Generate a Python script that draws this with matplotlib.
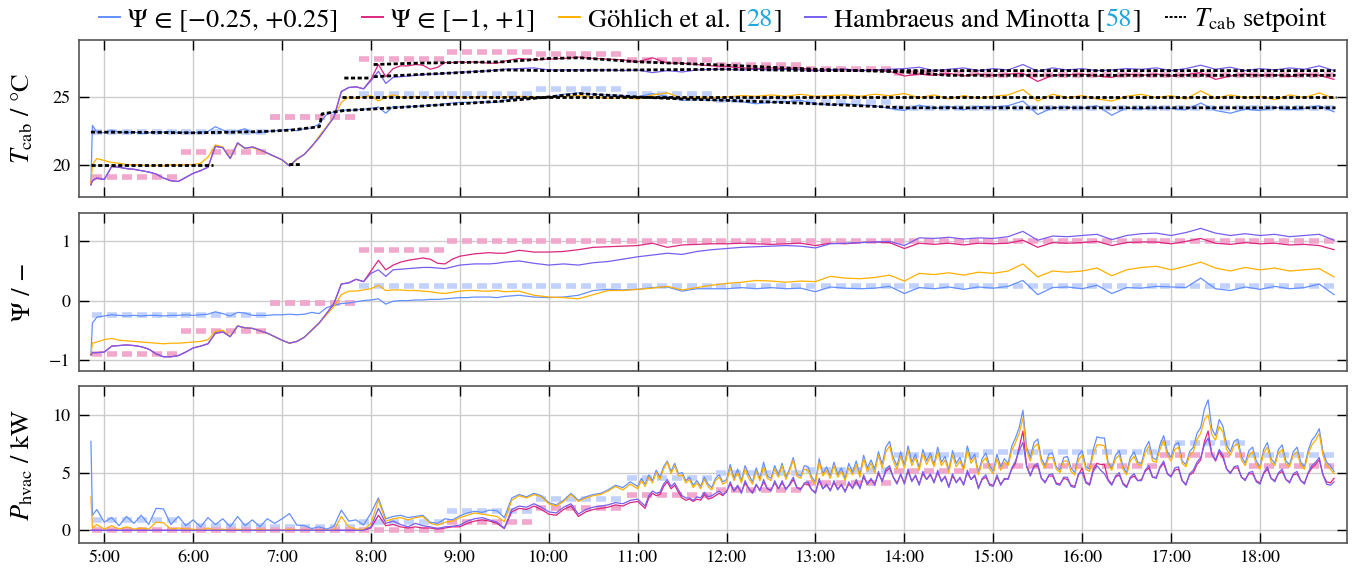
import numpy as np
import matplotlib
matplotlib.use('Agg')
import matplotlib.pyplot as plt

plt.rcParams['font.family'] = 'STIXGeneral'
plt.rcParams['mathtext.fontset'] = 'stix'

# sample times in hours: 4:51, 4:52, then 5-min steps to 9:30, 10-min steps to 18:50
t_tm = np.concatenate([[291, 292], np.arange(295, 571, 5), np.arange(580, 1131, 10)]) / 60
# power samples: 4:51, 4:52, 5-min steps to 10:55, then 2.5-min steps to 18:50
t_p = np.concatenate([[291, 292], np.arange(295, 660, 5), np.arange(660, 1130.1, 2.5)]) / 60

# cabin temperature in degC
T_narrow = [18.6, 22.9, 22.4,
            22.35, 22.55, 22.4, 22.35, 22.4, 22.3, 22.35, 22.4, 22.4, 22.45, 22.35, 22.4,
            22.35, 22.4, 22.45, 22.8, 22.55, 22.4, 22.5, 22.65, 22.35, 22.35, 22.45, 22.5,
            22.55, 22.6, 22.5, 22.65, 22.7, 23.0, 23.7, 23.9, 24.05, 24.0, 24.05, 24.1,
            24.15, 24.25, 23.8, 24.3, 24.25, 24.3, 24.3, 24.35, 24.4, 24.4, 24.5, 24.55,
            24.6, 24.6, 24.6, 24.65, 24.6, 24.6, 24.75,
            24.9, 24.95,
            25.0, 25.2, 25.3, 25.2, 25.15, 25.1,
            25.0, 25.25, 25.05, 24.75, 24.8, 24.75,
            24.75, 24.65, 24.5, 24.6, 24.65, 24.75,
            24.5, 24.4, 24.5, 24.4, 24.35, 24.15,
            24.0, 24.4, 24.15, 24.3, 24.05, 24.3,
            24.25, 24.35, 24.7, 23.7, 24.2, 24.25,
            24.15, 24.35, 23.65, 24.2, 24.1, 24.2,
            24.15, 24.05, 24.55, 24.0, 23.8, 24.1,
            24.0, 24.25, 24.05, 24.15, 24.35, 23.9]
T_wide = [18.5, 18.8, 19.0,
          18.9, 19.85, 19.8, 19.7, 19.65, 19.55, 19.45, 19.3, 19.0, 18.8, 18.75, 19.05,
          19.35, 19.55, 19.8, 21.35, 21.25, 20.45, 21.6, 21.2, 21.3, 21.1, 20.85, 20.6,
          20.35, 19.9, 20.4, 20.75, 21.35, 22.0, 22.75, 23.5, 25.4, 25.7, 25.75, 25.6,
          26.3, 27.4, 26.5, 27.1, 27.3, 27.3, 27.4, 27.35, 27.05, 27.2, 27.55, 27.55,
          27.6, 27.55, 27.6, 27.55, 27.5, 27.5, 27.65,
          27.85, 27.75,
          27.8, 27.85, 27.95, 27.85, 27.8, 27.75,
          27.6, 27.9, 27.5, 27.5, 27.4, 27.3,
          27.25, 27.15, 27.1, 27.15, 27.1, 27.15,
          26.95, 27.0, 27.05, 26.95, 27.0, 26.9,
          26.55, 26.7, 26.6, 26.75, 26.55, 26.7,
          26.6, 26.7, 26.75, 26.15, 26.6, 26.65,
          26.7, 26.55, 26.45, 26.7, 26.6, 26.7,
          26.55, 26.65, 26.8, 26.3, 26.55, 26.7,
          26.6, 26.65, 26.5, 26.7, 26.6, 26.3]
T_goehlich = [18.6, 20.0, 20.45,
              20.3, 20.15, 20.1, 20.0, 20.0, 19.95, 19.9, 19.95, 19.9, 20.0, 19.95, 20.0,
              20.0, 20.1, 20.55, 21.45, 21.3, 20.5, 21.55, 21.2, 21.25, 21.05, 20.85, 20.6,
              20.35, 19.95, 20.35, 20.75, 21.3, 22.1, 22.8, 23.5, 24.6, 25.0, 24.9, 25.0,
              25.1, 24.7, 25.0, 25.15, 25.0, 24.95, 25.05, 25.0, 24.95, 25.0, 25.05, 25.0,
              25.0, 24.95, 25.0, 25.05, 25.0, 24.95, 25.0,
              25.05, 25.0,
              24.95, 25.05, 25.1, 25.0, 24.9, 24.95,
              24.85, 25.15, 25.3, 24.9, 25.0, 24.95,
              25.0, 25.1, 25.05, 25.15, 25.05, 25.2,
              25.05, 25.1, 25.15, 25.05, 25.2, 25.1,
              25.25, 24.95, 25.15, 24.85, 25.1, 24.9,
              25.05, 25.15, 25.55, 24.7, 25.2, 24.95,
              25.1, 24.85, 24.7, 25.05, 25.2, 24.95,
              25.1, 24.85, 25.45, 24.9, 25.15, 24.95,
              25.05, 24.8, 25.15, 24.95, 25.3, 24.9]
T_hambraeus = [18.5, 18.8, 19.0,
               18.9, 19.85, 19.8, 19.7, 19.65, 19.55, 19.45, 19.3, 19.0, 18.8, 18.75, 19.05,
               19.35, 19.55, 19.8, 21.35, 21.25, 20.45, 21.6, 21.2, 21.3, 21.1, 20.85, 20.6,
               20.35, 19.9, 20.4, 20.75, 21.35, 22.0, 22.75, 23.5, 25.4, 25.7, 25.75, 25.6,
               26.2, 26.9, 26.0, 26.45, 26.5, 26.55, 26.6, 26.65, 26.7, 26.7, 26.75, 26.8,
               26.85, 26.85, 26.9, 26.9, 26.95, 27.0, 27.05,
               27.1, 27.15,
               27.0, 27.0, 27.0, 27.0, 27.0, 26.95,
               27.0, 26.8, 26.95, 26.85, 27.0, 27.05,
               27.05, 27.0, 27.05, 27.0, 27.05, 27.0,
               26.95, 27.0, 27.05, 26.95, 27.0, 27.05,
               27.1, 27.2, 26.95, 27.05, 27.15, 26.95,
               27.1, 27.0, 27.4, 26.9, 27.15, 27.0,
               27.1, 26.95, 27.0, 27.1, 27.05, 27.15,
               26.95, 27.1, 27.35, 27.05, 27.2, 26.95,
               27.1, 27.0, 27.15, 27.05, 27.3, 26.95]

# comfort index Psi
psi_narrow = [-0.92, -0.38, -0.28,
              -0.26, -0.24, -0.25, -0.26, -0.25, -0.26, -0.25, -0.25, -0.26, -0.25, -0.25, -0.24,
              -0.25, -0.24, -0.23, -0.19, -0.22, -0.26, -0.2, -0.21, -0.25, -0.25, -0.25, -0.24,
              -0.24, -0.23, -0.24, -0.23, -0.2, -0.22, -0.12, -0.08, -0.05, -0.04, -0.02, 0.0,
              0.01, 0.03, -0.06, -0.01, 0.0, 0.0, 0.01, 0.01, 0.02, 0.02, 0.03, 0.04,
              0.05, 0.05, 0.06, 0.06, 0.06, 0.05, 0.07,
              0.09, 0.06,
              0.05, 0.06, 0.09, 0.17, 0.19, 0.18,
              0.19, 0.22, 0.23, 0.16, 0.2, 0.2,
              0.2, 0.22, 0.2, 0.22, 0.2, 0.21,
              0.15, 0.23, 0.21, 0.2, 0.21, 0.24,
              0.12, 0.22, 0.2, 0.23, 0.19, 0.23,
              0.21, 0.24, 0.34, 0.1, 0.22, 0.23,
              0.2, 0.26, 0.12, 0.22, 0.21, 0.24,
              0.23, 0.22, 0.38, 0.2, 0.17, 0.23,
              0.19, 0.24, 0.2, 0.22, 0.28, 0.1]
psi_wide = [-0.92, -0.88, -0.88,
            -0.87, -0.77, -0.76, -0.75, -0.76, -0.78, -0.82, -0.9, -0.95, -0.95, -0.93, -0.87,
            -0.8, -0.77, -0.73, -0.55, -0.53, -0.61, -0.43, -0.46, -0.47, -0.51, -0.55, -0.61,
            -0.67, -0.72, -0.69, -0.62, -0.5, -0.38, -0.22, -0.05, 0.28, 0.3, 0.36, 0.32,
            0.5, 0.68, 0.52, 0.6, 0.65, 0.68, 0.7, 0.72, 0.7, 0.63, 0.62, 0.7,
            0.75, 0.77, 0.79, 0.8, 0.81, 0.8, 0.8,
            0.85, 0.82,
            0.82, 0.83, 0.86, 0.9, 0.91, 0.92,
            0.93, 0.97, 0.9, 0.94, 0.95, 0.96,
            0.96, 0.97, 0.96, 0.95, 0.96, 0.97,
            0.93, 0.97, 0.96, 0.98, 0.99, 0.98,
            0.88, 0.97, 0.95, 0.97, 0.94, 0.97,
            0.96, 0.97, 1.02, 0.9, 0.98, 0.97,
            0.98, 1.0, 0.93, 0.98, 0.99, 0.99,
            0.96, 1.0, 1.05, 0.97, 0.95, 0.98,
            0.96, 0.97, 0.94, 0.95, 0.93, 0.86]
psi_goehlich = [-0.92, -0.72, -0.7,
                -0.66, -0.64, -0.67, -0.68, -0.69, -0.7, -0.71, -0.72, -0.73, -0.72, -0.72, -0.71,
                -0.7, -0.69, -0.66, -0.52, -0.5, -0.6, -0.43, -0.46, -0.47, -0.51, -0.55, -0.61,
                -0.67, -0.72, -0.69, -0.62, -0.5, -0.38, -0.24, -0.1, 0.1, 0.16, 0.16, 0.18,
                0.2, 0.26, 0.17, 0.18, 0.18, 0.17, 0.17, 0.16, 0.15, 0.13, 0.12, 0.14,
                0.16, 0.17, 0.17, 0.16, 0.16, 0.17, 0.15,
                0.16, 0.09,
                0.06, 0.05, 0.03, 0.1, 0.17, 0.17,
                0.19, 0.21, 0.24, 0.18, 0.22, 0.26,
                0.29, 0.31, 0.34, 0.33, 0.31, 0.33,
                0.32, 0.41, 0.38, 0.37, 0.39, 0.43,
                0.33, 0.46, 0.44, 0.47, 0.43, 0.48,
                0.46, 0.5, 0.62, 0.4, 0.5, 0.48,
                0.5, 0.55, 0.42, 0.52, 0.56, 0.58,
                0.52, 0.58, 0.65, 0.55, 0.5, 0.56,
                0.52, 0.55, 0.5, 0.52, 0.54, 0.4]
psi_hambraeus = [-0.92, -0.88, -0.88,
                 -0.87, -0.77, -0.76, -0.75, -0.76, -0.78, -0.82, -0.9, -0.95, -0.95, -0.93, -0.87,
                 -0.8, -0.77, -0.73, -0.55, -0.53, -0.61, -0.43, -0.46, -0.47, -0.51, -0.55, -0.61,
                 -0.67, -0.72, -0.69, -0.62, -0.5, -0.38, -0.22, -0.05, 0.28, 0.3, 0.36, 0.32,
                 0.46, 0.52, 0.41, 0.52, 0.53, 0.54, 0.55, 0.56, 0.56, 0.55, 0.54, 0.57,
                 0.6, 0.61, 0.62, 0.62, 0.62, 0.63, 0.65,
                 0.67, 0.63,
                 0.6, 0.62, 0.6, 0.64, 0.66, 0.7,
                 0.74, 0.77, 0.8, 0.78, 0.83, 0.86,
                 0.88, 0.9, 0.91, 0.92, 0.93, 0.92,
                 0.89, 0.96, 0.97, 0.98, 0.99, 1.0,
                 0.93, 1.06, 1.05, 1.07, 1.04, 1.06,
                 1.05, 1.08, 1.17, 1.02, 1.09, 1.08,
                 1.1, 1.12, 1.03, 1.1, 1.13, 1.14,
                 1.1, 1.15, 1.22, 1.14, 1.1, 1.13,
                 1.1, 1.12, 1.08, 1.1, 1.12, 1.02]

# HVAC power in kW (one row per hour)
P_narrow = [7.7, 1.3, 1.8,
            0.7, 1.1, 0.4, 1.2, 0.6, 1.3, 0.5, 1.9, 1.85, 0.5, 1.2, 0.4,
            0.9, 0.3, 1.1, 0.5, 1.0, 0.3, 1.2, 0.4, 0.9, 0.3, 1.0, 0.6,
            1.0, 1.45, 0.45, 0.4, 0.15, 0.3, 0.1, 0.35, 1.75, 0.8, 0.9, 0.45,
            1.5, 2.8, 1.0, 1.2, 1.3, 1.1, 1.2, 1.3, 0.7, 0.6, 1.0, 0.9,
            1.25, 1.5, 1.65, 1.55, 1.75, 1.7, 1.1, 2.8, 3.1, 2.9, 3.2, 3.0,
            2.4, 2.2, 2.6, 3.2, 2.6, 2.9, 3.1, 3.2, 3.5, 3.9, 3.7, 4.2,
            3.8, 4.5, 4.0, 4.8, 4.3, 5.2, 4.6, 5.5, 6.0, 5.1, 5.8, 4.9,
            5.0, 4.3, 4.6, 3.9, 4.3, 3.8, 4.6, 4.0, 3.7, 4.5, 4.8, 4.2,
            4.4, 5.7, 4.5, 5.3, 4.3, 5.6, 4.8, 4.2, 5.4, 4.5, 5.9, 4.7,
            4.5, 5.6, 4.8, 5.8, 4.6, 5.3, 6.3, 4.9, 4.7, 5.6, 5.5, 4.6,
            4.2, 6.2, 4.9, 5.5, 4.7, 5.9, 4.8, 5.4, 4.5, 5.8, 5.0, 6.0,
            4.8, 6.5, 5.4, 6.1, 5.3, 6.8, 5.7, 7.2, 7.7, 6.3, 5.6, 6.8,
            5.6, 7.3, 5.9, 6.6, 5.4, 7.0, 6.0, 6.7, 5.7, 7.2, 5.9, 6.4,
            5.2, 6.9, 5.8, 6.3, 5.4, 7.3, 6.1, 6.6, 5.0, 6.2, 6.7, 5.6,
            5.1, 6.6, 5.5, 6.2, 5.8, 7.3, 8.0, 8.9, 10.4, 7.2, 6.3, 7.6,
            7.9, 6.2, 5.6, 6.6, 6.7, 5.5, 5.2, 6.3, 6.4, 5.4, 5.0, 6.5,
            6.9, 5.5, 5.3, 7.0, 8.1, 8.0, 8.0, 5.9, 5.4, 6.5, 6.9, 5.5,
            5.0, 6.3, 6.8, 5.9, 5.8, 7.1, 7.7, 6.3, 6.1, 7.4, 8.2, 6.8,
            6.3, 7.4, 7.6, 6.0, 5.7, 6.8, 7.2, 8.4, 8.9, 10.5, 11.3, 8.8,
            8.2, 9.6, 9.0, 7.4, 6.8, 7.7, 7.9, 6.4, 5.8, 6.9, 7.2, 6.0,
            5.5, 7.0, 7.6, 6.2, 5.8, 7.0, 7.4, 6.0, 5.7, 6.8, 7.2, 5.9,
            5.5, 6.9, 7.8, 8.2, 8.8, 6.8, 5.9, 5.6, 5.1]
P_wide = [0.0, 0.0, 0.0,
          0.0, 0.0, 0.0, 0.0, 0.0, 0.0, 0.0, 0.0, 0.0, 0.0, 0.0, 0.0,
          0.0, 0.0, 0.0, 0.0, 0.0, 0.0, 0.0, 0.0, 0.0, 0.0, 0.0, 0.0,
          0.0, 0.0, 0.0, 0.0, 0.0, 0.0, 0.0, 0.0, 0.0, 0.0, 0.0, 0.0,
          0.2, 1.3, 0.4, 0.5, 0.3, 0.2, 0.3, 0.2, 0.2, 0.1, 0.2, 0.3,
          0.3, 0.6, 0.8, 0.9, 0.8, 0.6, 0.15, 1.6, 1.9, 1.8, 2.1, 1.8,
          1.4, 1.3, 1.8, 2.1, 1.2, 1.6, 1.8, 1.9, 2.0, 2.2, 2.1, 2.4,
          2.5, 2.2, 1.9, 2.8, 3.2, 3.0, 3.1, 3.8, 4.2, 3.6, 3.9, 3.3,
          2.8, 2.6, 2.7, 2.5, 2.7, 2.6, 3.1, 2.7, 2.8, 3.0, 3.2, 3.0,
          3.4, 4.0, 3.4, 3.8, 3.3, 4.1, 3.6, 3.3, 3.9, 3.5, 4.2, 3.6,
          3.5, 4.1, 3.6, 4.1, 3.6, 3.9, 4.4, 3.7, 3.6, 4.0, 4.0, 3.5,
          3.3, 4.3, 3.6, 3.9, 3.5, 4.1, 3.6, 3.9, 3.4, 4.0, 3.7, 4.2,
          3.7, 4.6, 4.0, 4.4, 4.0, 4.9, 4.3, 5.1, 5.4, 4.6, 4.1, 4.8,
          4.1, 5.1, 4.3, 4.7, 4.0, 4.9, 4.4, 4.8, 4.2, 5.0, 4.3, 4.6,
          3.8, 4.7, 4.2, 4.5, 4.0, 5.0, 4.4, 4.7, 3.7, 4.4, 4.6, 4.0,
          3.9, 4.6, 4.0, 4.4, 4.5, 5.3, 5.8, 7.2, 8.6, 5.6, 4.8, 5.5,
          5.6, 4.5, 4.2, 4.7, 4.7, 4.1, 4.0, 4.5, 4.4, 3.9, 3.8, 4.8,
          5.4, 4.2, 4.0, 5.3, 5.8, 5.7, 5.7, 4.4, 4.0, 4.6, 4.8, 4.1,
          3.8, 4.5, 4.7, 4.3, 4.4, 5.1, 5.4, 4.6, 4.6, 5.4, 5.8, 4.9,
          4.7, 5.2, 5.3, 4.3, 4.0, 4.8, 5.0, 5.7, 6.1, 7.7, 8.6, 6.6,
          6.0, 6.8, 6.3, 5.3, 5.0, 5.4, 5.4, 4.6, 4.4, 4.9, 4.9, 4.3,
          4.1, 4.9, 5.3, 4.5, 4.3, 4.9, 5.1, 4.4, 4.2, 4.8, 4.9, 4.3,
          4.1, 4.9, 5.4, 5.7, 6.1, 4.8, 4.2, 4.1, 4.5]
P_goehlich = [2.9, 0.2, 0.5,
              0.1, 0.4, 0.1, 0.3, 0.1, 0.2, 0.1, 0.7, 0.65, 0.1, 0.2, 0.1,
              0.1, 0.0, 0.2, 0.0, 0.1, 0.0, 0.1, 0.0, 0.0, 0.1, 0.0, 0.0,
              0.0, 0.1, 0.0, 0.0, 0.0, 0.0, 0.0, 0.0, 1.2, 0.3, 0.1, 0.05,
              0.6, 2.6, 0.8, 1.0, 1.1, 0.9, 1.1, 1.2, 0.6, 0.45, 0.7, 0.8,
              1.1, 1.3, 1.5, 1.4, 1.3, 1.2, 0.75, 2.6, 3.0, 2.8, 3.1, 2.9,
              2.3, 2.1, 2.5, 3.1, 2.5, 2.8, 3.0, 3.1, 3.4, 3.8, 3.5, 4.0,
              3.6, 4.3, 3.8, 4.6, 4.1, 5.0, 4.4, 5.3, 5.9, 4.9, 5.6, 4.7,
              4.8, 4.1, 4.4, 3.7, 4.1, 3.6, 4.4, 3.8, 3.5, 4.3, 4.6, 4.0,
              4.2, 5.4, 4.3, 5.0, 4.1, 5.3, 4.5, 4.0, 5.1, 4.3, 5.5, 4.5,
              4.3, 5.3, 4.6, 5.6, 4.4, 5.1, 6.1, 4.7, 4.5, 5.3, 5.2, 4.4,
              4.0, 5.9, 4.7, 5.2, 4.5, 5.6, 4.6, 5.1, 4.3, 5.4, 4.8, 5.7,
              4.6, 6.2, 5.1, 5.8, 5.0, 6.5, 5.4, 6.8, 7.3, 6.0, 5.3, 6.4,
              5.4, 6.9, 5.6, 6.3, 5.2, 6.6, 5.7, 6.4, 5.5, 6.8, 5.6, 6.1,
              5.0, 6.5, 5.5, 6.0, 5.2, 6.9, 5.8, 6.3, 4.8, 5.9, 6.3, 5.3,
              4.9, 6.2, 5.2, 5.9, 5.6, 6.9, 7.6, 8.4, 9.7, 6.9, 6.0, 7.2,
              7.5, 5.9, 5.4, 6.3, 6.3, 5.3, 5.0, 6.0, 6.0, 5.1, 4.8, 6.1,
              6.5, 5.3, 5.1, 6.6, 7.4, 7.4, 7.3, 5.7, 5.2, 6.2, 6.5, 5.3,
              4.8, 6.0, 6.4, 5.7, 5.6, 6.7, 7.3, 6.0, 5.9, 7.0, 7.8, 6.5,
              6.0, 7.0, 7.2, 5.8, 5.5, 6.5, 6.8, 7.9, 8.4, 9.6, 10.0, 8.3,
              7.8, 9.0, 8.5, 7.0, 6.5, 7.3, 7.5, 6.1, 5.6, 6.5, 6.8, 5.7,
              5.3, 6.7, 7.2, 5.9, 5.6, 6.7, 7.0, 5.7, 5.5, 6.5, 6.8, 5.6,
              5.3, 6.6, 7.4, 7.8, 8.4, 6.5, 5.6, 5.3, 4.9]
P_hambraeus = [0.0, 0.0, 0.0,
               0.0, 0.0, 0.0, 0.0, 0.0, 0.0, 0.0, 0.0, 0.0, 0.0, 0.0, 0.0,
               0.0, 0.0, 0.0, 0.0, 0.0, 0.0, 0.0, 0.0, 0.0, 0.0, 0.0, 0.0,
               0.0, 0.0, 0.0, 0.0, 0.0, 0.0, 0.0, 0.0, 0.0, 0.0, 0.0, 0.0,
               0.3, 1.9, 0.6, 0.8, 0.5, 0.3, 0.6, 0.4, 0.3, 0.15, 0.3, 0.35,
               0.45, 0.8, 1.0, 1.1, 0.9, 0.7, 0.2, 1.8, 2.1, 2.0, 2.3, 2.0,
               1.6, 1.5, 2.0, 2.3, 1.4, 1.8, 2.0, 2.1, 2.2, 2.4, 2.3, 2.6,
               2.7, 2.4, 2.1, 3.0, 3.4, 3.2, 3.3, 4.0, 4.4, 3.8, 4.1, 3.5,
               3.0, 2.8, 2.8, 2.6, 2.9, 2.8, 3.3, 2.9, 3.0, 3.2, 3.4, 3.1,
               3.3, 4.2, 3.4, 3.9, 3.2, 4.3, 3.6, 3.2, 4.0, 3.4, 4.4, 3.6,
               3.4, 4.3, 3.6, 4.3, 3.5, 4.0, 4.6, 3.7, 3.5, 4.1, 4.2, 3.5,
               3.2, 4.5, 3.6, 4.0, 3.4, 4.3, 3.5, 4.0, 3.3, 4.2, 3.6, 4.4,
               3.6, 4.8, 4.0, 4.5, 3.9, 5.1, 4.2, 5.3, 5.6, 4.6, 4.0, 4.9,
               4.0, 5.3, 4.2, 4.8, 3.9, 5.1, 4.4, 4.9, 4.1, 5.2, 4.2, 4.7,
               3.7, 4.9, 4.1, 4.6, 3.9, 5.2, 4.4, 4.8, 3.6, 4.5, 4.8, 3.9,
               3.8, 4.8, 3.9, 4.5, 4.4, 5.4, 6.0, 6.9, 7.6, 5.5, 4.7, 5.6,
               5.8, 4.5, 4.1, 4.8, 4.9, 4.0, 3.9, 4.6, 4.6, 3.8, 3.7, 4.9,
               5.0, 4.1, 3.9, 5.1, 5.6, 5.2, 4.9, 4.3, 3.9, 4.7, 5.0, 4.0,
               3.7, 4.6, 4.9, 4.3, 4.3, 5.2, 5.6, 4.6, 4.5, 5.5, 6.0, 4.9,
               4.6, 5.4, 5.5, 4.3, 3.9, 4.9, 5.2, 5.9, 6.3, 7.4, 8.0, 6.6,
               6.1, 7.0, 6.5, 5.3, 4.9, 5.5, 5.6, 4.6, 4.3, 5.0, 5.1, 4.2,
               4.0, 5.0, 5.5, 4.5, 4.2, 5.0, 5.3, 4.4, 4.1, 4.9, 5.1, 4.3,
               4.0, 5.0, 5.6, 5.9, 6.3, 4.8, 4.0, 3.9, 4.2]

# temperature setpoints (nan = no setpoint)
nan = np.nan
sp_narrow_t = [4.85, 5.5, 6.0, 6.5, 6.8, 7.1, 7.42, 7.45, 7.7, 8.0, 8.5, 9.0, 9.5,
               10.0, 10.35, 11.0, 11.5, 12.0, 13.0, 13.5, 14.0, 18.85]
sp_narrow = [22.4, 22.38, 22.35, 22.4, 22.45, 22.55, 22.8, 23.75, 24.0, 24.1, 24.3, 24.5, 24.7,
             25.0, 25.25, 25.0, 24.85, 24.75, 24.5, 24.35, 24.2, 24.2]
sp_wide_t = [8.03, 8.5, 9.0, 9.5, 10.0, 10.35, 11.0, 12.0, 13.0, 14.0, 14.5, 18.85]
sp_wide = [27.4, 27.5, 27.55, 27.6, 27.85, 27.9, 27.6, 27.35, 27.05, 26.85, 26.6, 26.6]
sp_goehlich_t = [4.85, 6.22, nan, 7.67, 18.85]
sp_goehlich = [20.0, 20.0, nan, 25.0, 25.0]
sp_hambraeus_t = [7.08, 7.2, nan, 7.7, 8.0, nan, 8.03, 8.5, 9.0, 9.5, 10.0, 11.0, 12.0,
                  13.0, 14.0, 18.85]
sp_hambraeus = [20.0, 20.0, nan, 26.4, 26.4, nan, 26.5, 26.65, 26.8, 27.0, 26.95, 27.0,
                27.05, 26.95, 26.95, 26.95]

# hourly reference blocks for the two Psi ranges
ref_edges = [4.85, 5.85, 6.85, 7.85, 8.85, 9.85, 10.87, 11.87, 12.88, 13.87, 14.87,
             15.87, 16.87, 17.87, 18.85]
ref_T_narrow = [22.4, 22.4, 23.55, 25.25, 25.25, 25.57, 25.2, 24.8, 24.6, 24.2, 24.2, 24.2, 24.2, 24.2]
ref_T_wide = [19.1, 20.96, 23.55, 27.8, 28.3, 28.15, 27.7, 27.35, 27.1, 26.8, 26.6, 26.6, 26.6, 26.6]
ref_psi_narrow = [-0.25, -0.25, -0.04, 0.25, 0.25, 0.25, 0.25, 0.25, 0.25, 0.25, 0.25, 0.25, 0.25, 0.25]
ref_psi_wide = [-0.9, -0.51, -0.04, 0.85, 1.0, 1.0, 1.0, 1.0, 1.0, 1.0, 1.0, 1.0, 1.0, 1.0]
ref_P_narrow = [0.9, 0.37, 0.3, 0.75, 1.67, 2.7, 4.5, 5.0, 5.2, 6.55, 6.8, 6.8, 7.6, 6.55]
ref_P_wide = [0.0, 0.0, 0.0, 0.0, 0.75, 1.9, 3.06, 3.5, 4.13, 5.1, 5.6, 5.6, 6.5, 5.6]

labels = ['Ψ ∈ [−0.25, +0.25]', 'Ψ ∈ [−1, +1]', 'Göhlich et al. [28]',
          'Hambraeus and Minotta [58]']
colors = ['#648fff', '#dc267f', '#ffb000', '#785ef0']
ref_colors = ['#c1d2ff', '#f1a8cc']
cite_color = '#1fa5e0'

fig = plt.figure(figsize=(13.66, 5.72), dpi=100)
ax_T = fig.add_axes([0.0578, 0.6556, 0.9283, 0.2753])
ax_psi = fig.add_axes([0.0578, 0.3514, 0.9283, 0.2762], sharex=ax_T)
ax_P = fig.add_axes([0.0578, 0.0507, 0.9283, 0.2745], sharex=ax_T)


def draw_refs(ax, narrow, wide):
    for vals, c in ((narrow, ref_colors[0]), (wide, ref_colors[1])):
        for t0, t1, v in zip(ref_edges[:-1], ref_edges[1:], vals):
            ax.plot([t0 + 0.01, t1 - 0.01], [v, v], color=c, lw=4,
                    dashes=(1.8, 0.9), dash_capstyle='butt', zorder=1)


draw_refs(ax_T, ref_T_narrow, ref_T_wide)
draw_refs(ax_psi, ref_psi_narrow, ref_psi_wide)
draw_refs(ax_P, ref_P_narrow, ref_P_wide)

handles = []
for ys, c, lab in zip([T_narrow, T_wide, T_goehlich, T_hambraeus], colors, labels):
    h, = ax_T.plot(t_tm, ys, color=c, lw=0.9, label=lab, zorder=2)
    handles.append(h)
for ys, c in zip([psi_narrow, psi_wide, psi_goehlich, psi_hambraeus], colors):
    ax_psi.plot(t_tm, ys, color=c, lw=0.9, zorder=2)
for ys, c in zip([P_narrow, P_wide, P_goehlich, P_hambraeus], colors):
    ax_P.plot(t_p, ys, color=c, lw=0.9, zorder=2)

sp_style = dict(color='black', lw=2.0, dashes=(1.5, 0.9), zorder=3)
for st, sv in [(sp_narrow_t, sp_narrow), (sp_wide_t, sp_wide),
               (sp_goehlich_t, sp_goehlich), (sp_hambraeus_t, sp_hambraeus)]:
    h_sp, = ax_T.plot(st, sv, **sp_style)
handles.append(h_sp)

for ax in (ax_T, ax_psi, ax_P):
    ax.set_xlim(4.7154, 18.979)
    ax.grid(True, color='#cccccc', lw=1.0)
    ax.set_axisbelow(True)
    ax.tick_params(direction='in', top=True, right=True, length=7, width=1.0,
                   labelsize=13, pad=6, colors='black')
    for s in ax.spines.values():
        s.set_color('#555555')
        s.set_linewidth(1.2)

ax_T.set_ylim(17.6, 29.25)
ax_T.set_yticks([20, 25])
ax_psi.set_ylim(-1.19, 1.48)
ax_psi.set_yticks([-1, 0, 1])
ax_P.set_ylim(-1.1, 12.5)
ax_P.set_yticks([0, 5, 10])

hours = np.arange(5, 19)
ax_P.set_xticks(hours)
ax_P.set_xticklabels([f'{h}:00' for h in hours])
ax_P.tick_params(axis='x', pad=5)
plt.setp(ax_T.get_xticklabels(), visible=False)
plt.setp(ax_psi.get_xticklabels(), visible=False)

ax_T.set_ylabel(r'$T_\mathrm{cab}$ / °C', fontsize=19)
ax_psi.set_ylabel('Ψ / −', fontsize=19)
ax_P.set_ylabel(r'$P_\mathrm{hvac}$ / kW', fontsize=19)
for ax in (ax_T, ax_psi, ax_P):
    ax.yaxis.set_label_coords(-0.034, 0.5)

leg = ax_T.legend(handles, labels + [r'$T_\mathrm{cab}$ setpoint'], loc='lower center',
                  bbox_to_anchor=(0.5, 1.0), ncol=5, frameon=False, fontsize=19,
                  handlelength=0.8, handletextpad=0.3, columnspacing=0.9,
                  borderaxespad=0.1, borderpad=0.1)
for lh in leg.get_lines():
    lh.set_linewidth(1.4)

# redraw the two cited labels piecewise so the reference numbers are coloured
fig.canvas.draw()
renderer = fig.canvas.get_renderer()
inv = fig.transFigure.inverted()
for txt in leg.get_texts():
    s = txt.get_text()
    if 'et al.' not in s and 'Minotta' not in s:
        continue
    fp = txt.get_fontproperties()
    bb = txt.get_window_extent(renderer)
    _, _, d = renderer.get_text_width_height_descent(s, fp, ismath=False)
    _, _, d_lp = renderer.get_text_width_height_descent('lp', fp, ismath=False)
    y = bb.y0 + max(d, d_lp)
    txt.set_visible(False)
    i0 = s.index('[') + 1
    i1 = s.index(']')
    x = bb.x0
    for piece, col in ((s[:i0], 'black'), (s[i0:i1], cite_color), (s[i1:], 'black')):
        fx, fy = inv.transform((x, y))
        fig.text(fx, fy, piece, color=col, fontproperties=fp, ha='left', va='baseline')
        x += renderer.get_text_width_height_descent(piece, fp, ismath=False)[0]

fig.savefig('out.png', dpi=100)
